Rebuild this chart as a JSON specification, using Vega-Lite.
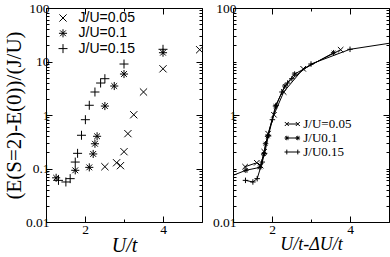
{
  "$schema": "https://vega.github.io/schema/vega-lite/v6.json",
  "padding": {"left": 2, "top": 0, "right": 0, "bottom": 0},
  "spacing": 31,
  "bounds": "flush",
  "config": {
    "view": {"stroke": "black", "strokeWidth": 1},
    "axis": {"domain": false, "grid": false, "labelFont": "Liberation Serif", "labelFontSize": 13.5, "labelColor": "black", "titleFont": "Liberation Serif", "titleFontSize": 20, "titleFontWeight": "normal", "titleColor": "black", "tickColor": "black", "tickWidth": 1, "labelOverlap": false, "labelFlush": false},
    "legend": {"title": null, "symbolStrokeColor": "black", "symbolFillColor": "transparent", "symbolStrokeWidth": 1, "padding": 0, "labelColor": "black"}
  },
  "datasets": {
    "left": [
      {"s": "0.05", "x": 2.51, "y": 0.108},
      {"s": "0.05", "x": 2.81, "y": 0.128},
      {"s": "0.05", "x": 2.91, "y": 0.113},
      {"s": "0.05", "x": 3.0, "y": 0.206},
      {"s": "0.05", "x": 3.1, "y": 0.448},
      {"s": "0.05", "x": 3.25, "y": 1.01},
      {"s": "0.05", "x": 3.5, "y": 2.69},
      {"s": "0.05", "x": 4.0, "y": 7.3},
      {"s": "0.05", "x": 4.94, "y": 16.6},
      {"s": "0.1", "x": 1.26, "y": 0.067},
      {"s": "0.1", "x": 1.75, "y": 0.0925},
      {"s": "0.1", "x": 2.11, "y": 0.105},
      {"s": "0.1", "x": 2.21, "y": 0.187},
      {"s": "0.1", "x": 2.255, "y": 0.29},
      {"s": "0.1", "x": 2.31, "y": 0.4},
      {"s": "0.1", "x": 2.51, "y": 1.47},
      {"s": "0.1", "x": 2.75, "y": 3.48},
      {"s": "0.1", "x": 3.0, "y": 5.83},
      {"s": "0.1", "x": 4.0, "y": 14.6},
      {"s": "0.15", "x": 1.32, "y": 0.06},
      {"s": "0.15", "x": 1.51, "y": 0.056},
      {"s": "0.15", "x": 1.62, "y": 0.0646},
      {"s": "0.15", "x": 1.75, "y": 0.132},
      {"s": "0.15", "x": 1.81, "y": 0.192},
      {"s": "0.15", "x": 1.91, "y": 0.418},
      {"s": "0.15", "x": 2.01, "y": 0.817},
      {"s": "0.15", "x": 2.11, "y": 1.52},
      {"s": "0.15", "x": 2.255, "y": 2.69},
      {"s": "0.15", "x": 2.4, "y": 3.96},
      {"s": "0.15", "x": 2.51, "y": 4.77},
      {"s": "0.15", "x": 3.0, "y": 8.97},
      {"s": "0.15", "x": 4.0, "y": 16.9}
    ],
    "right": [
      {"s": "0.05", "x": 1.31, "y": 0.108},
      {"s": "0.05", "x": 1.61, "y": 0.128},
      {"s": "0.05", "x": 1.71, "y": 0.113},
      {"s": "0.05", "x": 1.8, "y": 0.206},
      {"s": "0.05", "x": 1.9, "y": 0.448},
      {"s": "0.05", "x": 2.05, "y": 1.01},
      {"s": "0.05", "x": 2.3, "y": 2.69},
      {"s": "0.05", "x": 2.8, "y": 7.3},
      {"s": "0.05", "x": 3.76, "y": 16.6},
      {"s": "0.1", "x": 0.84, "y": 0.067},
      {"s": "0.1", "x": 1.33, "y": 0.0925},
      {"s": "0.1", "x": 1.69, "y": 0.105},
      {"s": "0.1", "x": 1.79, "y": 0.187},
      {"s": "0.1", "x": 1.835, "y": 0.29},
      {"s": "0.1", "x": 1.89, "y": 0.4},
      {"s": "0.1", "x": 2.09, "y": 1.47},
      {"s": "0.1", "x": 2.33, "y": 3.48},
      {"s": "0.1", "x": 2.58, "y": 5.83},
      {"s": "0.1", "x": 3.58, "y": 14.6},
      {"s": "0.15", "x": 1.32, "y": 0.06},
      {"s": "0.15", "x": 1.51, "y": 0.056},
      {"s": "0.15", "x": 1.62, "y": 0.0646},
      {"s": "0.15", "x": 1.75, "y": 0.132},
      {"s": "0.15", "x": 1.81, "y": 0.192},
      {"s": "0.15", "x": 1.91, "y": 0.418},
      {"s": "0.15", "x": 2.01, "y": 0.817},
      {"s": "0.15", "x": 2.11, "y": 1.52},
      {"s": "0.15", "x": 2.255, "y": 2.69},
      {"s": "0.15", "x": 2.4, "y": 3.96},
      {"s": "0.15", "x": 2.51, "y": 4.77},
      {"s": "0.15", "x": 3.0, "y": 8.97},
      {"s": "0.15", "x": 4.0, "y": 16.9},
      {"s": "0.15", "x": 6.0, "y": 28.3}
    ]
  },
  "resolve": {"scale": {"shape": "independent"}, "legend": {"shape": "independent"}},
  "hconcat": [
    {
      "width": 156,
      "height": 214,
      "data": {"name": "left"},
      "resolve": {"axis": {"x": "independent", "y": "independent"}},
      "layer": [
        {
          "transform": [{"filter": "datum.s !== '0.15'"}],
          "mark": {"type": "point", "filled": false, "color": "black", "strokeWidth": 1, "opacity": 1, "size": 81, "clip": true},
          "encoding": {
            "x": {"field": "x", "type": "quantitative", "scale": {"domain": [1, 5], "nice": false, "zero": false},
              "axis": {"orient": "bottom", "values": [1, 2, 3, 4, 5], "labelExpr": "datum.value % 2 === 0 ? datum.label : ''", "tickSize": {"condition": {"test": "datum.value % 2 === 0", "value": -6}, "value": -3}, "labelOverlap": false, "labelPadding": 6, "title": "U/t", "titleFontStyle": "italic", "titlePadding": -3}},
            "y": {"field": "y", "type": "quantitative", "scale": {"type": "log", "domain": [0.01, 100], "nice": false},
              "axis": {"orient": "left", "values": [0.01,0.02,0.03,0.04,0.05,0.06,0.07,0.08,0.09,0.1,0.2,0.3,0.4,0.5,0.6,0.7,0.8,0.9,1,2,3,4,5,6,7,8,9,10,20,30,40,50,60,70,80,100], "labelExpr": "abs(log(datum.value)/LN10 - round(log(datum.value)/LN10)) < 0.001 ? format(pow(10, round(log(datum.value)/LN10)), '~g') : ''", "tickSize": {"condition": {"test": "abs(log(datum.value)/LN10 - round(log(datum.value)/LN10)) < 0.001", "value": -6}, "value": -3}, "labelOverlap": false, "labelPadding": 3, "title": "(E(S=2)-E(0))/(J/U)", "titleFontStyle": "normal", "titleFontSize": 21, "titlePadding": 1}},
            "shape": {"field": "s", "type": "nominal", "scale": {"domain": ["0.05", "0.1", "0.15"], "range": ["M-0.8,-0.8L0.8,0.8M-0.8,0.8L0.8,-0.8", "M-0.9,0L0.9,0M0,-0.9L0,0.9M-0.64,-0.64L0.64,0.64M-0.64,0.64L0.64,-0.64", "M-1,0L1,0M0,-1L0,1"]},
              "legend": {"orient": "none", "legendX": 10, "legendY": 3, "labelFont": "Liberation Sans", "labelFontSize": 14, "symbolSize": 81, "labelOffset": 8.5, "rowPadding": 1.3, "labelExpr": "'J/U=' + datum.label"}}
          }
        },
        {
          "transform": [{"filter": "datum.s === '0.15'"}],
          "mark": {"type": "point", "filled": false, "color": "black", "strokeWidth": 1, "opacity": 1, "size": 81, "clip": true},
          "encoding": {
            "x": {"field": "x", "type": "quantitative", "axis": {"orient": "top", "values": [1, 2, 3, 4, 5], "labels": false, "title": null, "tickSize": {"condition": {"test": "datum.value % 2 === 0", "value": -6}, "value": -3}}},
            "y": {"field": "y", "type": "quantitative", "axis": {"orient": "right", "values": [0.01,0.02,0.03,0.04,0.05,0.06,0.07,0.08,0.09,0.1,0.2,0.3,0.4,0.5,0.6,0.7,0.8,0.9,1,2,3,4,5,6,7,8,9,10,20,30,40,50,60,70,80,90,100], "labels": false, "title": null, "tickSize": {"condition": {"test": "abs(log(datum.value)/LN10 - round(log(datum.value)/LN10)) < 0.001", "value": -6}, "value": -3}}},
            "shape": {"field": "s", "type": "nominal", "legend": {"orient": "none", "legendX": 10, "legendY": 3, "labelFont": "Liberation Sans", "labelFontSize": 14, "symbolSize": 81, "labelOffset": 8.5, "rowPadding": 1.3, "labelExpr": "'J/U=' + datum.label"}}
          }
        }
      ]
    },
    {
      "width": 156,
      "height": 214,
      "data": {"name": "right"},
      "resolve": {"axis": {"x": "independent", "y": "independent"}, "scale": {"shape": "independent"}, "legend": {"shape": "independent"}},
      "layer": [
        {
          "mark": {"type": "line", "color": "black", "strokeWidth": 1, "clip": true},
          "encoding": {
            "x": {"field": "x", "type": "quantitative", "scale": {"domain": [1, 5], "nice": false, "zero": false},
              "axis": {"orient": "bottom", "values": [1, 2, 3, 4, 5], "labelExpr": "datum.value % 2 === 0 ? datum.label : ''", "tickSize": {"condition": {"test": "datum.value % 2 === 0", "value": -6}, "value": -3}, "labelOverlap": false, "labelPadding": 6, "title": "U/t-ΔU/t", "titleFontStyle": "italic", "titleFontSize": 18, "titlePadding": -3}},
            "y": {"field": "y", "type": "quantitative", "scale": {"type": "log", "domain": [0.01, 100], "nice": false},
              "axis": {"orient": "left", "values": [0.01,0.02,0.03,0.04,0.05,0.06,0.07,0.08,0.09,0.1,0.2,0.3,0.4,0.5,0.6,0.7,0.8,0.9,1,2,3,4,5,6,7,8,9,10,20,30,40,50,60,70,80,100], "labelExpr": "abs(log(datum.value)/LN10 - round(log(datum.value)/LN10)) < 0.001 && round(log(datum.value)/LN10) % 2 === 0 ? format(pow(10, round(log(datum.value)/LN10)), '~g') : ''", "tickSize": {"condition": {"test": "abs(log(datum.value)/LN10 - round(log(datum.value)/LN10)) < 0.001 && round(log(datum.value)/LN10) % 2 === 0", "value": -6}, "value": -3}, "labelOverlap": false, "labelPadding": 3, "title": null}},
            "detail": {"field": "s", "type": "nominal"}
          }
        },
        {
          "mark": {"type": "point", "filled": false, "color": "black", "strokeWidth": 1, "opacity": 1, "size": 30, "clip": true},
          "encoding": {
            "x": {"field": "x", "type": "quantitative", "axis": {"orient": "top", "values": [1, 2, 3, 4, 5], "labels": false, "title": null, "tickSize": {"condition": {"test": "datum.value % 2 === 0", "value": -6}, "value": -3}}},
            "y": {"field": "y", "type": "quantitative", "axis": {"orient": "right", "values": [0.01,0.02,0.03,0.04,0.05,0.06,0.07,0.08,0.09,0.1,0.2,0.3,0.4,0.5,0.6,0.7,0.8,0.9,1,2,3,4,5,6,7,8,9,10,20,30,40,50,60,70,80,90,100], "labels": false, "title": null, "tickSize": {"condition": {"test": "abs(log(datum.value)/LN10 - round(log(datum.value)/LN10)) < 0.001 && round(log(datum.value)/LN10) % 2 === 0", "value": -6}, "value": -3}}},
            "shape": {"field": "s", "type": "nominal", "scale": {"domain": ["0.05", "0.1", "0.15"], "range": ["M-1,-1L1,1M-1,1L1,-1", "M-1,0L1,0M0,-1L0,1M-0.7,-0.7L0.7,0.7M-0.7,0.7L0.7,-0.7", "M-1,0L1,0M0,-1L0,1"]}, "legend": null}
          }
        },
        {
          "transform": [{"filter": "datum.x > 1000"}],
          "mark": {"type": "point", "filled": false, "color": "black", "strokeWidth": 1, "opacity": 1},
          "encoding": {
            "shape": {"field": "sl", "type": "nominal", "scale": {"domain": ["0.05", "0.1", "0.15"], "range": [
              "M-1.83,0L1.83,0M-2.5,-0.67L-1.17,0.67M-2.5,0.67L-1.17,-0.67M1.17,-0.67L2.5,0.67M1.17,0.67L2.5,-0.67",
              "M-1.83,0L1.83,0M-2.6,0L-1.07,0M-1.83,-0.75L-1.83,0.75M-2.4,-0.55L-1.27,0.55M-2.4,0.55L-1.27,-0.55M1.07,0L2.6,0M1.83,-0.75L1.83,0.75M1.27,-0.55L2.4,0.55M1.27,0.55L2.4,-0.55",
              "M-2.6,0L2.6,0M-1.83,-0.8L-1.83,0.8M1.83,-0.8L1.83,0.8"]},
              "legend": {"orient": "none", "legendX": 52.8, "legendY": 109.5, "labelFont": "Liberation Serif", "labelFontSize": 13, "symbolSize": 36, "labelOffset": 4.5, "rowPadding": 0, "labelExpr": "datum.label === '0.05' ? 'J/U=0.05' : 'J/U' + datum.label"}}
          }
        }
      ]
    }
  ]
}
